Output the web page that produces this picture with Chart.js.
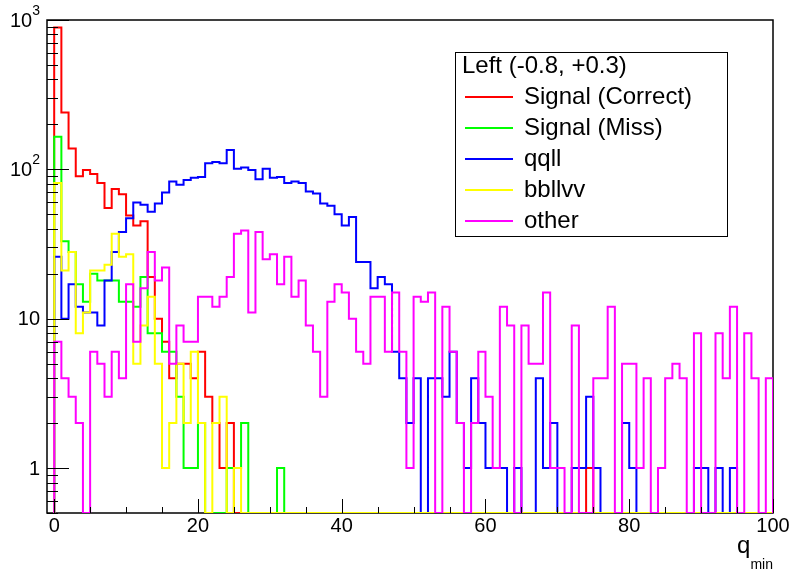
<!DOCTYPE html>
<html>
<head>
<meta charset="utf-8">
<script src="https://cdn.jsdelivr.net/npm/chart.js@4.4.1/dist/chart.umd.min.js"></script>
<style>
  html, body { margin: 0; padding: 0; background: #fff; }
</style>
</head>
<body>
<canvas id="qmin" width="790" height="578"></canvas>
<script>
// histogram binning : 100 bins of width 1 from 0 to 100
const binLow = 0;
const binWidth = 1;

const legendTitle = 'Left (-0.8, +0.3)';
const seriesNames = ['Signal (Correct)', 'Signal (Miss)', 'qqll', 'bbllvv', 'other'];
const seriesColors = ['#ff0000', '#00ff00', '#0000ff', '#ffff00', '#ff00ff'];

const signalCorrect = [
  890, 240, 138, 90, 99, 93, 81, 55, 74, 68,
  49, 42, 45, 19, 10, 7, 4, 5, 5, 4,
  6, 3, 2, 1, 2, 0, 0, 0, 0, 0,
  0, 0, 0, 0, 0, 0, 0, 0, 0, 0,
  0, 0, 0, 0, 0, 0, 0, 0, 0, 0,
  0, 0, 0, 0, 0, 0, 0, 0, 0, 0,
  0, 0, 0, 0, 0, 0, 0, 0, 0, 0,
  0, 0, 0, 0, 1, 0, 0, 0, 0, 0,
  0, 0, 0, 0, 0, 0, 0, 0, 0, 0,
  0, 0, 0, 0, 0, 0, 0, 0, 0, 0
];
const signalMiss = [
  165, 33, 28, 17, 13, 20, 18, 18, 18, 13,
  13, 12, 19, 8, 8, 6, 6, 3, 1, 1,
  2, 0, 0, 0, 1, 1, 2, 0, 0, 0,
  0, 1, 0, 0, 0, 0, 0, 0, 0, 0,
  0, 0, 0, 0, 0, 0, 0, 0, 0, 0,
  0, 0, 0, 0, 0, 0, 0, 0, 0, 0,
  0, 0, 0, 0, 0, 0, 0, 0, 0, 0,
  0, 0, 0, 0, 0, 0, 0, 0, 0, 0,
  0, 0, 0, 0, 0, 0, 0, 0, 0, 0,
  0, 0, 0, 0, 0, 0, 0, 0, 0, 0
];
const qqll = [
  26, 10, 17, 12, 11, 11, 9, 18, 28, 38,
  47, 60, 58, 52, 59, 70, 83, 79, 85, 88,
  89, 110, 112, 110, 135, 101, 103, 99, 86, 101,
  88, 89, 81, 83, 81, 71, 69, 59, 57, 50,
  42, 48, 24, 24, 16, 19, 17, 6, 4, 2,
  4, 0, 4, 4, 3, 6, 2, 1, 4, 2,
  1, 1, 1, 0, 1, 0, 0, 4, 1, 2,
  0, 0, 1, 1, 3, 1, 0, 0, 0, 2,
  1, 0, 0, 0, 0, 0, 0, 0, 0, 1,
  1, 0, 1, 0, 1, 0, 0, 0, 0, 0
];
const bbllvv = [
  81, 21, 28, 8, 11, 21, 21, 23, 37, 26,
  27, 5, 9, 14, 5, 1, 2, 5, 2, 6,
  2, 0, 2, 3, 0, 1, 0, 0, 0, 0,
  0, 0, 0, 0, 0, 0, 0, 0, 0, 0,
  0, 0, 0, 0, 0, 0, 0, 0, 0, 0,
  0, 0, 0, 0, 0, 0, 0, 0, 0, 0,
  0, 0, 0, 0, 0, 0, 0, 0, 0, 0,
  0, 0, 0, 0, 0, 0, 0, 0, 0, 0,
  0, 0, 0, 0, 0, 0, 0, 0, 0, 0,
  0, 0, 0, 0, 0, 0, 0, 0, 0, 0
];
const other = [
  7, 4, 3, 2, 0, 6, 5, 3, 6, 4,
  17, 7, 16, 28, 18, 22, 5, 9, 7, 7,
  14, 14, 12, 14, 19, 37, 39, 11, 38, 25,
  27, 17, 26, 14, 18, 9, 6, 3, 13, 17,
  15, 10, 6, 5, 14, 14, 6, 15, 6, 1,
  14, 13, 15, 0, 12, 6, 2, 0, 2, 6,
  3, 1, 12, 9, 0, 9, 5, 5, 15, 1,
  1, 0, 9, 0, 0, 4, 4, 12, 0, 5,
  5, 1, 4, 0, 1, 4, 5, 4, 0, 8,
  0, 0, 8, 4, 12, 0, 8, 4, 0, 4
];

const xTickLabels = ['0', '20', '40', '60', '80', '100'];
const yTickLabels = [[1, '1', ''], [10, '10', ''], [100, '10', '2'], [1000, '10', '3']];

const xMin = -1, xMax = 100;
const yMin = 0.5, yMax = 1000;
const FONT = '"Liberation Sans", Arial, sans-serif';

// empty bins go down to the bottom of the frame like in ROOT log plots
function histPoints(vals) {
  let pts = [{x: binLow, y: yMin}];
  vals.forEach(function(v, i) {
    pts.push({x: binLow + i * binWidth, y: v > 0 ? v : yMin});
  });
  let last = vals[vals.length - 1];
  let hi = binLow + vals.length * binWidth;
  pts.push({x: hi, y: last > 0 ? last : yMin});
  pts.push({x: hi, y: yMin});
  return pts;
}

const allSeries = [signalCorrect, signalMiss, qqll, bbllvv, other];

const rootStyle = {
  id: 'rootStyle',
  beforeDatasetsDraw(chart) {
    // frame goes under the histograms
    const ctx = chart.ctx;
    const area = chart.chartArea;
    ctx.save();
    ctx.strokeStyle = '#000';
    ctx.lineWidth = 1.5;
    ctx.strokeRect(area.left, area.top, area.right - area.left, area.bottom - area.top);
    ctx.restore();
  },
  afterDraw(chart) {
    const ctx = chart.ctx;
    const area = chart.chartArea;
    const sx = chart.scales.x, sy = chart.scales.y;
    ctx.save();
    ctx.strokeStyle = '#000';

    // x ticks, inside the frame
    ctx.lineWidth = 1;
    ctx.beginPath();
    for (let v = 0; v <= 100; v += 5) {
      let px = Math.round(sx.getPixelForValue(v)) + 0.5;
      let len = (v % 20 === 0) ? 14 : 6;
      ctx.moveTo(px, area.bottom);
      ctx.lineTo(px, area.bottom - len);
    }
    // y ticks
    for (let dec = 0.1; dec < 1000; dec *= 10) {
      for (let k = 1; k <= 9; k++) {
        let v = dec * k;
        if (v < yMin - 1e-9 || v > yMax) continue;
        let py = Math.round(sy.getPixelForValue(v)) + 0.5;
        let len = (k === 1) ? 22 : 11;
        ctx.moveTo(area.left, py);
        ctx.lineTo(area.left + len, py);
      }
    }
    let pTop = Math.round(sy.getPixelForValue(1000)) + 0.5;
    ctx.moveTo(area.left, pTop);
    ctx.lineTo(area.left + 22, pTop);
    ctx.stroke();

    // x labels
    ctx.fillStyle = '#000';
    ctx.font = '20px ' + FONT;
    ctx.textAlign = 'center';
    ctx.textBaseline = 'top';
    xTickLabels.forEach(function(lab) {
      ctx.fillText(lab, sx.getPixelForValue(Number(lab)), area.bottom + 3);
    });

    // y labels, with exponent as superscript
    ctx.textBaseline = 'middle';
    yTickLabels.forEach(function(t) {
      let py = sy.getPixelForValue(t[0]);
      let right = area.left - 7;
      ctx.textAlign = 'right';
      if (t[2]) {
        ctx.font = '14px ' + FONT;
        let w = ctx.measureText(t[2]).width;
        ctx.fillText(t[2], right, py - 9);
        ctx.font = '20px ' + FONT;
        ctx.fillText(t[1], right - w, py + 1);
      } else {
        ctx.font = '20px ' + FONT;
        ctx.fillText(t[1], right, py + 1);
      }
    });

    // axis title q_min
    ctx.textAlign = 'left';
    ctx.textBaseline = 'alphabetic';
    ctx.font = '14px ' + FONT;
    let wSub = ctx.measureText('min').width;
    ctx.font = '24px ' + FONT;
    let wq = ctx.measureText('q').width;
    let tx = area.right - wSub - wq;
    ctx.fillText('q', tx, 553);
    ctx.font = '14px ' + FONT;
    ctx.fillText('min', tx + wq, 569);

    // legend box
    const lx = 455, ly = 52, lw = 272, lh = 184;
    ctx.fillStyle = '#fff';
    ctx.fillRect(lx, ly, lw, lh);
    ctx.strokeStyle = '#000';
    ctx.lineWidth = 1;
    ctx.strokeRect(lx + 0.5, ly + 0.5, lw, lh);
    ctx.fillStyle = '#000';
    ctx.font = '24px ' + FONT;
    ctx.textBaseline = 'middle';
    ctx.fillText(legendTitle, 462, 66);
    chart.data.datasets.forEach(function(ds, i) {
      let ry = 97 + i * 31;
      ctx.strokeStyle = ds.borderColor;
      ctx.lineWidth = 2;
      ctx.beginPath();
      ctx.moveTo(465, ry);
      ctx.lineTo(513, ry);
      ctx.stroke();
      ctx.fillStyle = '#000';
      ctx.fillText(ds.label, 524, ry);
    });
    ctx.restore();
  }
};

new Chart(document.getElementById('qmin'), {
  type: 'line',
  data: {
    datasets: allSeries.map(function(vals, i) {
      return {
        label: seriesNames[i],
        data: histPoints(vals),
        borderColor: seriesColors[i],
        backgroundColor: seriesColors[i],
        borderWidth: 2,
        stepped: true,
        pointRadius: 0,
        fill: false,
        order: allSeries.length - i
      };
    })
  },
  options: {
    animation: false,
    responsive: false,
    devicePixelRatio: 1,
    layout: {
      padding: {left: 47, right: 17, top: 20, bottom: 65}
    },
    plugins: {
      legend: { display: false },
      tooltip: { enabled: false }
    },
    scales: {
      x: { type: 'linear', min: xMin, max: xMax, display: false },
      y: { type: 'logarithmic', min: yMin, max: yMax, display: false }
    }
  },
  plugins: [rootStyle]
});
</script>
</body>
</html>
